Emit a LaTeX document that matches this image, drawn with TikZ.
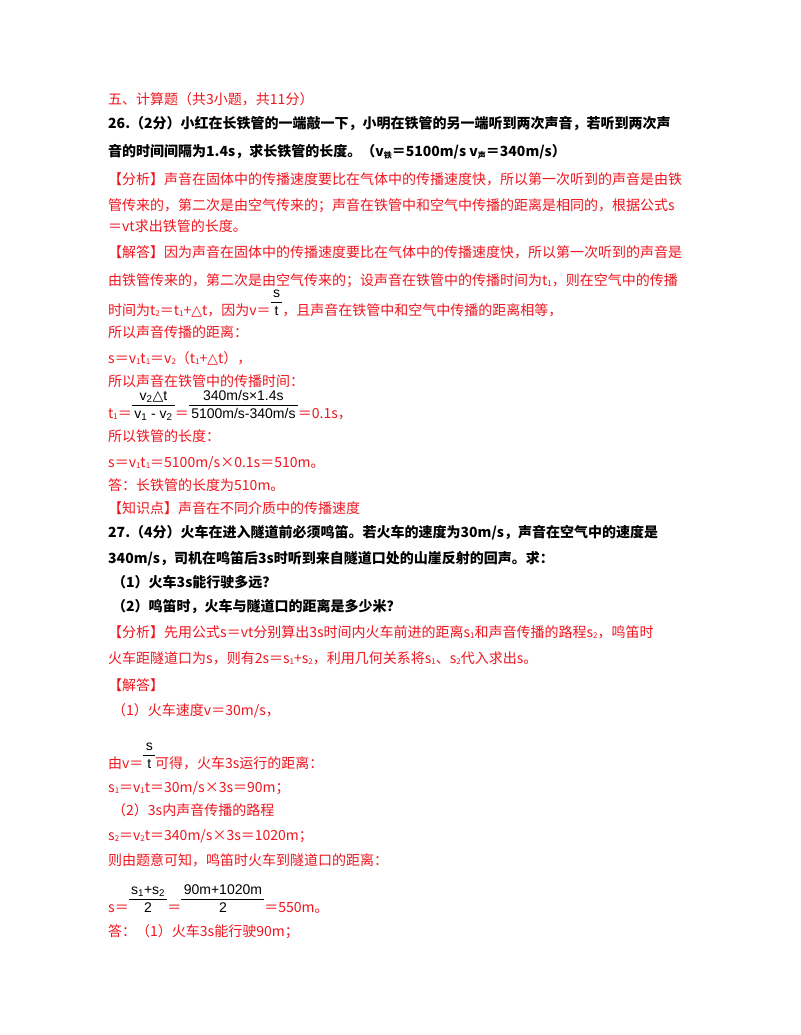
\documentclass[tikz,border=0pt]{standalone}
\usepackage{fontspec}
\setmainfont{Noto Sans CJK SC}
\newfontfamily\fr{Liberation Sans}
\newfontfamily\djvfont{DejaVu Sans}
\definecolor{ared}{RGB}{240,20,30}
\newcommand{\sbx}[1]{\raisebox{-0.25ex}{\fontsize{8}{8}\selectfont #1}}
\newcommand{\tri}{{\djvfont △}}
\newcommand{\fracz}[2]{{\fr\color{black}\renewcommand{\arraystretch}{1.25}\begin{tabular}[b]{@{\,}c@{\,}}#1\\\hline #2\end{tabular}}}
\begin{document}
\begin{tikzpicture}[x=1pt,y=-1pt,
 t/.style={anchor=base west,inner sep=0pt,font=\fontsize{14}{14}\selectfont},
 r/.style={t,text=ared},
 b/.style={t,font=\fontsize{14}{14}\selectfont\bfseries}]
\useasboundingbox (0,0) rectangle (800,1035);
\node[r] (l1) at (108,105) {五、计算题（共3小题，共11分）};
\node[b] (l2) at (108,129) {26.（2分）小红在长铁管的一端敲一下，小明在铁管的另一端听到两次声音，若听到两次声};
\node[b] (l3) at (108,157) {音的时间间隔为1.4s，求长铁管的长度。（v\sbx{铁}＝5100m/s\ v\sbx{声}＝340m/s）};
\node[r] (l4) at (108,185) {【分析】声音在固体中的传播速度要比在气体中的传播速度快，所以第一次听到的声音是由铁};
\node[r] (l5) at (108,211) {管传来的，第二次是由空气传来的；声音在铁管中和空气中传播的距离是相同的，根据公式s};
\node[r] (l6) at (108,231) {＝vt求出铁管的长度。};
\node[r] (l7) at (108,257) {【解答】因为声音在固体中的传播速度要比在气体中的传播速度快，所以第一次听到的声音是};
\node[r] (l8) at (108,285) {由铁管传来的，第二次是由空气传来的；设声音在铁管中的传播时间为t\sbx{1}，则在空气中的传播};
\node[r] (l9) at (108,315) {时间为t\sbx{2}＝t\sbx{1}+\tri t，因为v＝\fracz{s}{t}，且声音在铁管中和空气中传播的距离相等，};
\node[r] (l10) at (108,337) {所以声音传播的距离：};
\node[r] (l11) at (108,363) {s＝v\sbx{1}t\sbx{1}＝v\sbx{2}（t\sbx{1}+\tri t），};
\node[r] (l12) at (108,386) {所以声音在铁管中的传播时间：};
\node[r] (l13) at (108,418) {t\sbx{1}＝\fracz{v\textsubscript{2}\tri t}{v\textsubscript{1} - v\textsubscript{2}}＝\fracz{340m/s×1.4s}{5100m/s-340m/s}＝0.1s，};
\node[r] (l14) at (108,441) {所以铁管的长度：};
\node[r] (l15) at (108,467) {s＝v\sbx{1}t\sbx{1}＝5100m/s×0.1s＝510m。};
\node[r] (l16) at (108,490) {答：长铁管的长度为510m。};
\node[r] (l17) at (108,513) {【知识点】声音在不同介质中的传播速度};
\node[b] (l18) at (108,537) {27.（4分）火车在进入隧道前必须鸣笛。若火车的速度为30m/s，声音在空气中的速度是};
\node[b] (l19) at (108,563) {340m/s，司机在鸣笛后3s时听到来自隧道口处的山崖反射的回声。求：};
\node[b] (l20) at (112,587) {（1）火车3s能行驶多远？};
\node[b] (l21) at (112,611) {（2）鸣笛时，火车与隧道口的距离是多少米？};
\node[r] (l22) at (108,637) {【分析】先用公式s＝vt分别算出3s时间内火车前进的距离s\sbx{1}和声音传播的路程s\sbx{2}，鸣笛时};
\node[r] (l23) at (108,663) {火车距隧道口为s，则有2s＝s\sbx{1}+s\sbx{2}，利用几何关系将s\sbx{1}、s\sbx{2}代入求出s。};
\node[r] (l24) at (108,690) {【解答】};
\node[r] (l25) at (112,715) {（1）火车速度v＝30m/s，};
\node[r] (l26) at (108,768) {由v＝\fracz{s}{t}可得，火车3s运行的距离：};
\node[r] (l27) at (108,792) {s\sbx{1}＝v\sbx{1}t＝30m/s×3s＝90m；};
\node[r] (l28) at (112,815) {（2）3s内声音传播的路程};
\node[r] (l29) at (108,840) {s\sbx{2}＝v\sbx{2}t＝340m/s×3s＝1020m；};
\node[r] (l30) at (108,865) {则由题意可知，鸣笛时火车到隧道口的距离：};
\node[r] (l31) at (108,912) {s＝\fracz{s\textsubscript{1}+s\textsubscript{2}}{2}＝\fracz{90m+1020m}{2}＝550m。};
\node[r] (l32) at (108,936) {答：（1）火车3s能行驶90m；};
\end{tikzpicture}
\end{document}
